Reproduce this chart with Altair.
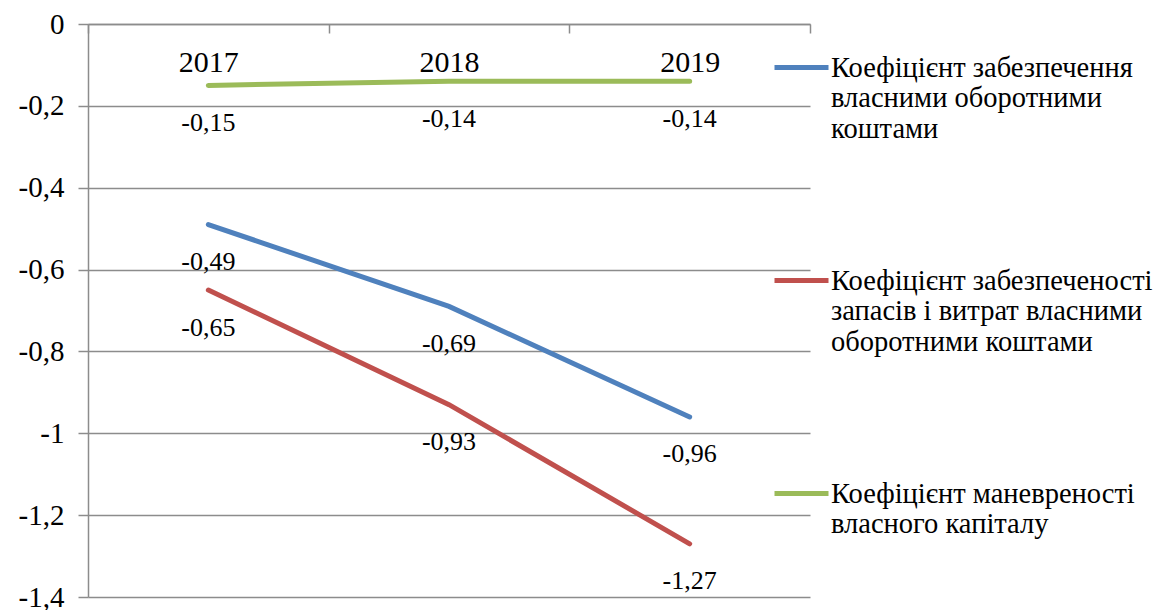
import altair as alt
import pandas as pd

years = ["2017", "2018", "2019"]
series_names = [
    "Коефіцієнт забезпечення|власними оборотними|коштами",
    "Коефіцієнт забезпеченості|запасів і витрат власними|оборотними коштами",
    "Коефіцієнт маневреності|власного капіталу",
]
blue_vals = [-0.49, -0.69, -0.96]
red_vals = [-0.65, -0.93, -1.27]
green_vals = [-0.15, -0.14, -0.14]
colors = ["#4F81BD", "#C0504D", "#9BBB59"]
y_ticks = [0, -0.2, -0.4, -0.6, -0.8, -1.0, -1.2, -1.4]

rows = []
for name, vals in zip(series_names, [blue_vals, red_vals, green_vals]):
    for yr, v in zip(years, vals):
        rows.append({"year": yr, "series": name, "value": v,
                     "label": f"{v:.2f}".replace(".", ",")})
df = pd.DataFrame(rows)

FONT = "Liberation Serif"
GRID = "#8C8C8C"

x_enc = alt.X("year:N", sort=years, bandPosition=0.5,
              scale=alt.Scale(type="band", paddingInner=0, paddingOuter=0),
              axis=alt.Axis(title=None, orient="bottom", offset=-573, labelAngle=0,
                            tickBand="extent", tickSize=9, tickColor=GRID, tickWidth=1.5,
                            domainColor=GRID, domainWidth=1.5, labelPadding=14,
                            labelFont=FONT, labelFontSize=30, labelColor="black",
                            grid=False))
y_enc = alt.Y("value:Q",
              scale=alt.Scale(domain=[-1.4, 0], nice=False, zero=False),
              axis=alt.Axis(title=None, values=y_ticks, grid=True, gridColor=GRID,
                            gridWidth=1.5, domainColor=GRID, domainWidth=1.5,
                            tickColor=GRID, tickWidth=1.5, tickSize=10,
                            labelPadding=14, labelFont=FONT, labelFontSize=29,
                            labelColor="black",
                            labelExpr="replace(toString(datum.value), '.', ',')"))
color_enc = alt.Color("series:N", sort=series_names,
                      scale=alt.Scale(domain=series_names, range=colors),
                      legend=alt.Legend(title=None, orient="none", legendX=684, legendY=14,
                                        symbolType="stroke", symbolSize=2916,
                                        symbolStrokeWidth=5, labelOffset=0,
                                        labelFont=FONT, labelFontSize=28.5, labelColor="black",
                                        labelLimit=0, labelBaseline="middle",
                                        labelExpr="split(datum.label, '|')",
                                        rowPadding=108))

lines = alt.Chart(df).mark_line(strokeWidth=5, strokeCap="round").encode(
    x=x_enc, y=y_enc, color=color_enc)
texts = alt.Chart(df).mark_text(baseline="top", dy=24.5, font=FONT, fontSize=26,
                                color="black").encode(
    x=alt.X("year:N", sort=years, bandPosition=0.5), y="value:Q", text="label:N")

chart = alt.layer(lines, texts).properties(
    width=722, height=573,
    padding={"left": 88, "top": 24, "right": 343, "bottom": 13},
    autosize=alt.AutoSizeParams(type="none"),
).configure(font=FONT).configure_view(stroke=None)

chart.save("out.html", embed_options={"renderer": "svg", "actions": False})
